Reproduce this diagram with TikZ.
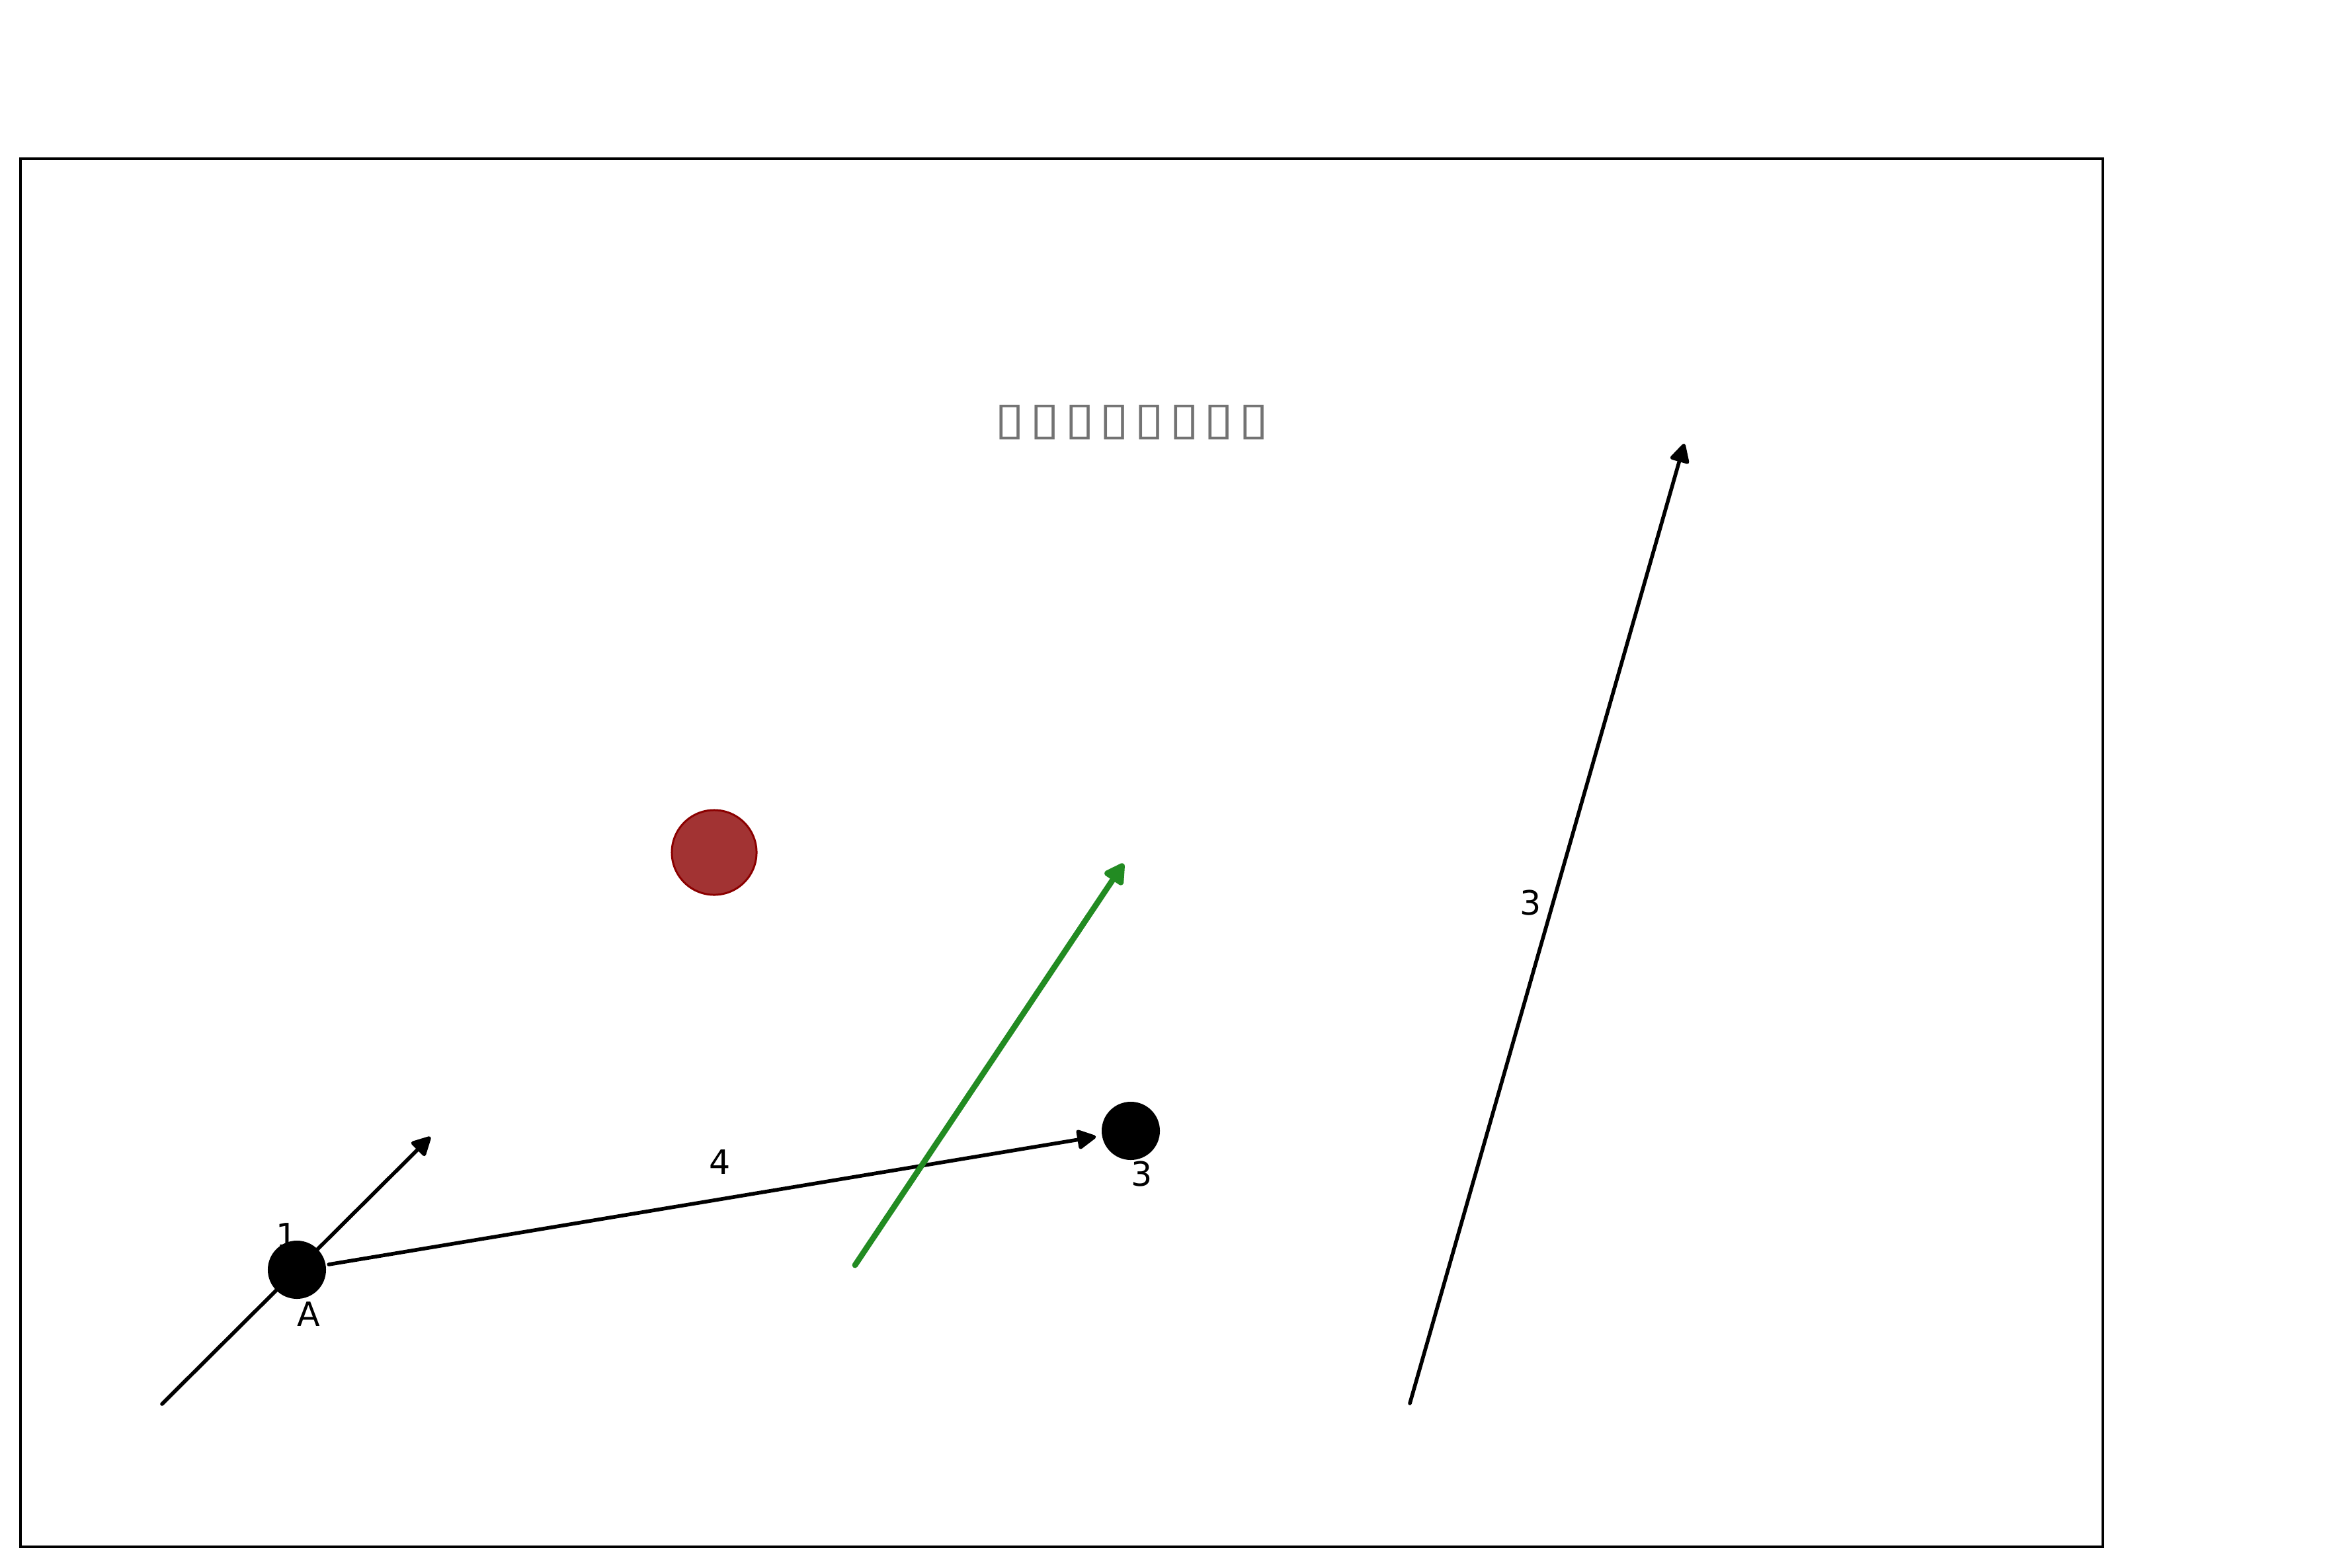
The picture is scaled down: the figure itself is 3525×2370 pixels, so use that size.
\documentclass[tikz,border=0pt]{standalone}
\usepackage{fontspec}
\setmainfont{DejaVu Sans}
\usepackage{tikz}
\usetikzlibrary{calc,arrows.meta}
\definecolor{ballred}{RGB}{162,51,51}
\definecolor{balledge}{RGB}{139,0,0}
\definecolor{forest}{RGB}{34,139,34}

\begin{document}
\begin{tikzpicture}[x=0.01cm,y=-0.01cm,
    font=\fontsize{14.4}{17}\selectfont,
    blackarrow/.style={line width=1.6pt,line cap=round,-{Triangle[length=9pt,width=9pt,round]}},
    greenarrow/.style={forest,line width=2.5pt,line cap=round,-{Triangle[length=10pt,width=10.5pt,round]}},
    dot/.style={circle,fill=black,minimum size=0.88cm,inner sep=0pt,outer sep=0pt}]
  % canvas and axes frame, in pixel units with y pointing down
  \useasboundingbox (0,0) rectangle (3525,2370);
  \draw[line width=1.2pt] (31,240) rectangle (3180,2339);
  % title (glyphs the font had no shape for)
  \node[text=black!55,font=\fontsize{19.5}{22}\selectfont\addfontfeature{LetterSpace=9}] (title) at (1712,639) {\scalebox{1.2}[1]{▯▯▯▯▯▯▯▯}};
  % free ends of the arrows that are not tied to a node
  \coordinate (lowA)  at (245,2123);
  \coordinate (highA) at (651,1719);
  \coordinate (gstart) at (1293,1913);
  \coordinate (gtip)   at (1699,1306);
  \coordinate (tstart) at (2132,2122);
  \coordinate (ttip)   at (2547,671);
  % line through A, the dot is drawn over it
  \draw[blackarrow] (lowA) -- (highA);
  \node[dot] (nodeA) at (449,1920) {};
  \node[dot] (nodeB) at (1710,1710) {};
  \node[circle,fill=ballred,draw=balledge,line width=0.85pt,minimum size=1.28cm,inner sep=0pt] (ball) at (1080,1289) {};
  % A to the second dot
  \draw[blackarrow,shorten <=1.4pt,shorten >=2.7pt] (nodeA) -- (nodeB);
  % green and tall arrows
  \draw[greenarrow] (gstart) -- (gtip);
  \draw[blackarrow] (tstart) -- (ttip);
  % labels
  \node (lblone)  at (434,1868) {1};
  \node (lblA)    at (467,1987) {A};
  \node (lblB)    at (1727,1775) {3};
  \node (lblfour) at (1089,1757) {4};
  \node (lbltall) at (2315,1365) {3};
\end{tikzpicture}
\end{document}
